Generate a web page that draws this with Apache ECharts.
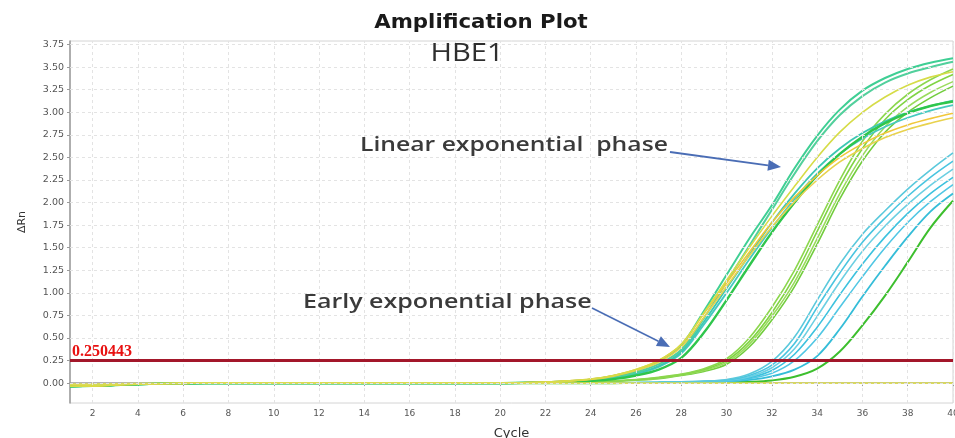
<!DOCTYPE html>
<html><head><meta charset="utf-8">
<script src="https://cdn.jsdelivr.net/npm/echarts@6/dist/echarts.min.js"></script>
<style>html,body{margin:0;padding:0;background:#fff}#c{width:955px;height:438px}</style>
</head><body><div id="c"></div>
<script>
// ---- data ----
const cycles = [1,2,3,4,5,6,7,8,9,10,11,12,13,14,15,16,17,18,19,20,21,22,23,24,25,26,27,28,29,30,31,32,33,34,35,36,37,38,39,40];
const xTicks = [2,4,6,8,10,12,14,16,18,20,22,24,26,28,30,32,34,36,38,40];
const yTicks = [0,0.25,0.5,0.75,1,1.25,1.5,1.75,2,2.25,2.5,2.75,3,3.25,3.5,3.75];
const threshold = 0.250443;
// shared flat baseline of the amplifying wells, cycles 1-20
const baseline = [-0.035,-0.03,-0.02,-0.012,-0.006,-0.003,0,0,0,0,0,0,0,0,0,0,0,0,0,0];
// no-template control, cycles 1-40
const ntc = [-0.012,-0.01,-0.008,-0.005,-0.003,-0.001,0,0,0,0,0,0,0,0,0,0,0,0,0,0,0,0,0,0,0,0,0,0,0,0,0,0,0,0,0,0,0,0,0,0];
// cycles 21-40 per amplifying curve
const a1 = [0.005,0.01,0.02,0.04,0.08,0.14,0.24,0.42,0.8,1.2,1.6,1.97,2.38,2.74,3.03,3.24,3.38,3.48,3.55,3.6];
const a2 = [0.005,0.01,0.02,0.035,0.07,0.12,0.21,0.37,0.72,1.12,1.52,1.92,2.32,2.68,2.97,3.18,3.33,3.43,3.5,3.56];
const a3 = [0.005,0.012,0.025,0.045,0.085,0.15,0.25,0.43,0.78,1.14,1.5,1.85,2.18,2.5,2.78,3.0,3.17,3.3,3.39,3.45];
const a4 = [0.004,0.008,0.016,0.03,0.06,0.11,0.19,0.35,0.68,1.05,1.42,1.78,2.1,2.38,2.6,2.77,2.9,3.0,3.07,3.13];
const a5 = [0.004,0.008,0.015,0.028,0.055,0.1,0.18,0.33,0.65,1.0,1.37,1.72,2.04,2.32,2.54,2.71,2.84,2.94,3.02,3.08];
const a6 = [0.005,0.012,0.025,0.045,0.085,0.15,0.25,0.43,0.77,1.11,1.45,1.78,2.06,2.3,2.5,2.65,2.77,2.86,2.93,2.99];
const a7 = [0.005,0.011,0.022,0.04,0.078,0.14,0.23,0.4,0.73,1.07,1.41,1.73,2.01,2.25,2.45,2.6,2.72,2.81,2.88,2.94];
const a8 = [0.003,0.006,0.012,0.024,0.045,0.085,0.15,0.28,0.56,0.92,1.3,1.67,2.0,2.3,2.54,2.73,2.88,2.99,3.07,3.12];
const b1 = [0.002,0.005,0.01,0.015,0.025,0.04,0.065,0.1,0.16,0.27,0.5,0.84,1.25,1.75,2.25,2.68,2.98,3.2,3.36,3.48];
const b2 = [0.002,0.005,0.009,0.014,0.023,0.037,0.06,0.095,0.15,0.25,0.46,0.78,1.18,1.68,2.18,2.6,2.92,3.14,3.3,3.42];
const b3 = [0.002,0.004,0.008,0.013,0.021,0.034,0.055,0.09,0.14,0.23,0.43,0.74,1.12,1.6,2.1,2.52,2.84,3.06,3.22,3.34];
const b4 = [0.002,0.004,0.007,0.012,0.02,0.032,0.05,0.085,0.13,0.21,0.4,0.7,1.07,1.54,2.04,2.46,2.78,3.0,3.16,3.29];
const c1 = [0,0,0,0.002,0.004,0.006,0.01,0.015,0.022,0.04,0.1,0.24,0.51,0.92,1.32,1.65,1.91,2.15,2.36,2.55];
const c2 = [0,0,0,0.002,0.004,0.006,0.009,0.014,0.02,0.035,0.085,0.2,0.44,0.84,1.22,1.56,1.83,2.07,2.28,2.46];
const c3 = [0,0,0,0.002,0.003,0.005,0.008,0.012,0.018,0.03,0.07,0.17,0.38,0.74,1.12,1.46,1.74,1.98,2.19,2.37];
const c4 = [0,0,0,0.001,0.003,0.005,0.007,0.011,0.015,0.026,0.06,0.14,0.32,0.62,0.98,1.32,1.62,1.88,2.1,2.28];
const c5 = [0,0,0,0.001,0.002,0.004,0.006,0.009,0.013,0.022,0.05,0.11,0.25,0.5,0.84,1.18,1.5,1.78,2.01,2.2];
const c6 = [0,0,0,0.001,0.002,0.003,0.005,0.007,0.01,0.018,0.035,0.075,0.15,0.3,0.6,0.96,1.3,1.62,1.9,2.1];
const d1 = [0,0,0,0,0,0.002,0.003,0.005,0.007,0.01,0.015,0.03,0.07,0.16,0.35,0.64,0.97,1.34,1.72,2.02];

const curves = [
  {tail: d1, color: '#3dbf2e', width: 2},
  {tail: c6, color: '#35bdd8', width: 1.8},
  {tail: c5, color: '#52c7e4', width: 1.6},
  {tail: c4, color: '#3ec2de', width: 1.6},
  {tail: c3, color: '#6ccfe2', width: 1.6},
  {tail: c2, color: '#4ac5e0', width: 1.6},
  {tail: c1, color: '#5bc9dc', width: 1.6},
  {tail: b4, color: '#72cd3e', width: 1.6},
  {tail: b3, color: '#9adb5e', width: 1.6},
  {tail: b2, color: '#80d444', width: 1.6},
  {tail: b1, color: '#8cd74e', width: 1.6},
  {tail: a5, color: '#46c9c0', width: 1.8},
  {tail: a4, color: '#3cc7b2', width: 1.8},
  {tail: a2, color: '#52d09c', width: 2},
  {tail: a1, color: '#3fcf94', width: 2},
  {tail: a8, color: '#2fc64c', width: 2.4},
  {tail: a7, color: '#e8d24e', width: 1.6},
  {tail: a6, color: '#f1c73a', width: 1.6},
  {tail: a3, color: '#d6dc48', width: 1.6}
];

const chart = echarts.init(document.getElementById('c'), null, {renderer: 'canvas'});
function toData(vals) {
  return cycles.map((c, i) => [c, vals[i]]);
}
const series = curves.map(cv => ({
  type: 'line', data: toData(baseline.concat(cv.tail)), showSymbol: false, smooth: 0.35,
  silent: true, animation: false, z: 2,
  lineStyle: {color: cv.color, width: cv.width}
}));
// no-template control on top of the flat baselines
series.push({
  type: 'line', data: toData(ntc), showSymbol: false, smooth: 0.35,
  silent: true, animation: false, z: 3,
  lineStyle: {color: '#dcdc58', width: 1.8}
});
// grid lines (even cycles, quarter ΔRn)
series[0].markLine = {
  silent: true, symbol: 'none', animation: false,
  label: {show: false},
  lineStyle: {color: '#e3e3e3', type: [3, 3], width: 1},
  data: xTicks.map(v => ({xAxis: v})).concat(yTicks.map(v => ({yAxis: v})))
};
series[0].z = 1;
// threshold
series[series.length - 1].markLine = {
  silent: true, symbol: 'none', animation: false,
  lineStyle: {color: '#a3172a', width: 3, type: 'solid'},
  label: {show: true, position: 'insideStartTop', formatter: String(threshold),
    color: '#e81010', fontFamily: 'Liberation Serif', fontWeight: 'bold', fontSize: 16, distance: [2, 1]},
  data: [{yAxis: threshold}]
};

chart.setOption({
  animation: false,
  backgroundColor: '#ffffff',
  grid: {left: 70, right: 2, top: 41, bottom: 35, show: true, borderColor: '#d4d4d4', borderWidth: 1,
         containLabel: false, outerBoundsMode: 'none'},
  xAxis: {
    type: 'value', min: 1, max: 40,
    name: 'Cycle', nameLocation: 'middle', nameGap: 24,
    nameTextStyle: {fontFamily: 'DejaVu Sans', fontSize: 13, color: '#333'},
    axisLine: {show: true, lineStyle: {color: '#9a9a9a', width: 1.5}},
    axisTick: {show: true, length: 3, customValues: xTicks, lineStyle: {color: '#9a9a9a'}},
    axisLabel: {customValues: xTicks, fontFamily: 'DejaVu Sans', fontSize: 9, color: '#555', margin: 6, hideOverlap: false},
    splitLine: {show: false}
  },
  yAxis: {
    type: 'value', min: -0.22, max: 3.79,
    name: 'ΔRn', nameLocation: 'middle', nameGap: 42,
    nameTextStyle: {fontFamily: 'DejaVu Sans', fontSize: 11, color: '#333'},
    axisLine: {show: true, lineStyle: {color: '#9a9a9a', width: 1.5}},
    axisTick: {show: true, length: 3, customValues: yTicks, lineStyle: {color: '#9a9a9a'}},
    axisLabel: {customValues: yTicks, formatter: v => v.toFixed(2), fontFamily: 'DejaVu Sans', fontSize: 9.5, color: '#555', margin: 6},
    splitLine: {show: false}
  },
  graphic: [
    {type: 'text', x: 481, y: 23, scaleX: 1.12, z: 10,
     style: {text: 'Amplification Plot', font: 'bold 19px "DejaVu Sans"', fill: '#1a1a1a', textAlign: 'center', textVerticalAlign: 'middle', align: 'center', verticalAlign: 'middle'}},
    {type: 'text', x: 467, y: 54, scaleX: 1.12, z: 10,
     style: {text: 'HBE1', font: '26px "Open Sans"', fill: '#2e2e2e', textAlign: 'center', textVerticalAlign: 'middle', align: 'center', verticalAlign: 'middle'}},
    {type: 'text', x: 360, y: 146, scaleX: 1.3, z: 10,
     style: {text: 'Linear exponential  phase', font: '600 19px "Open Sans"', fill: '#3a3a3a', textAlign: 'left', textVerticalAlign: 'middle', align: 'left', verticalAlign: 'middle'}},
    {type: 'text', x: 303, y: 302, scaleX: 1.25, z: 10,
     style: {text: 'Early exponential phase', font: '600 20px "Open Sans"', fill: '#3a3a3a', textAlign: 'left', textVerticalAlign: 'middle', align: 'left', verticalAlign: 'middle'}},
    {type: 'line', z: 10, shape: {x1: 670, y1: 152, x2: 768, y2: 165.3}, style: {stroke: '#4a6db5', lineWidth: 1.8}},
    {type: 'polygon', z: 10, shape: {points: [[781, 167], [767.4, 170.8], [768.8, 159.8]]}, style: {fill: '#4a6db5'}},
    {type: 'line', z: 10, shape: {x1: 592, y1: 308, x2: 658.4, y2: 341.2}, style: {stroke: '#4a6db5', lineWidth: 1.6}},
    {type: 'polygon', z: 10, shape: {points: [[670, 347], [655.9, 346.1], [660.9, 336.3]]}, style: {fill: '#4a6db5'}}
  ],
  series: series
});
</script>
</body></html>
